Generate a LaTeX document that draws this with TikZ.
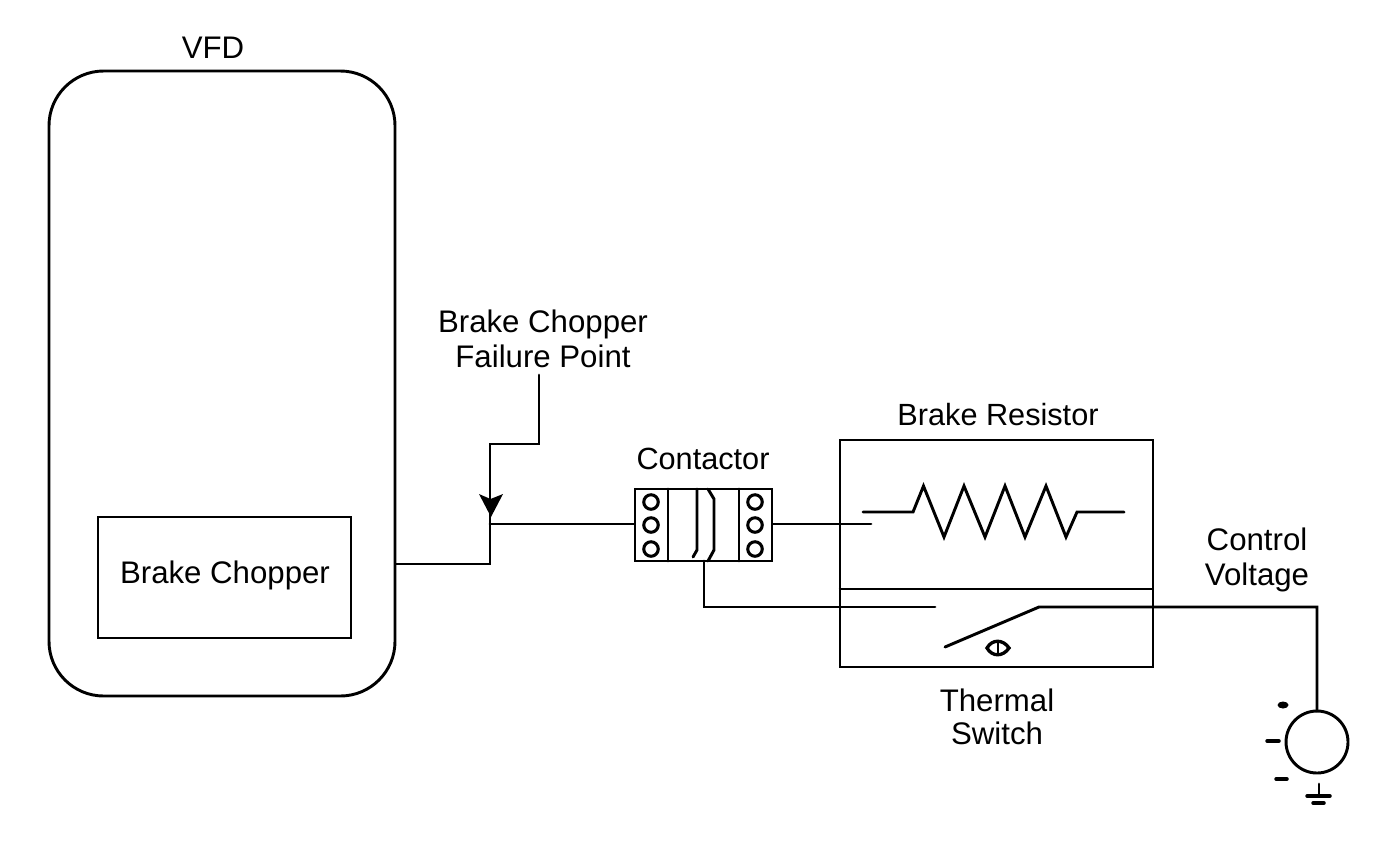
\documentclass[tikz,border=0pt]{standalone}
\usepackage{fontspec}
\setmainfont{Liberation Sans}
\tikzset{
  ln/.style={line width=2.2pt,line cap=round,line join=miter,black},
  tick/.style={line width=2.6pt,line cap=round,black},
  box/.style={draw,line width=2.2pt,inner sep=0pt},
  lbl/.style={font=\fontsize{23.4pt}{26pt}\selectfont,align=center,inner sep=0pt},
  hole/.style={circle,draw,line width=2.3pt,minimum size=14.5*0.75pt,inner sep=0pt},
}
\begin{document}
\begin{tikzpicture}[x=0.75pt,y=-0.75pt]
\useasboundingbox (0,0) rectangle (1394,844);
% VFD
\node[box,minimum width=346*0.75pt,minimum height=625*0.75pt,rounded corners=41pt] (vfd) at (222,383.5) {};
\node[lbl] (vfdl) at (213,48) {VFD};
\node[box,minimum width=253*0.75pt,minimum height=121*0.75pt] (chop) at (224.5,577.5) {};
\node[lbl] (chopl) at (225,575) {Brake Chopper};
\node[lbl] (fail) at (543,339) {Brake Chopper\\Failure Point};
% Contactor
\node[box,minimum width=137*0.75pt,minimum height=72*0.75pt] (cont) at (703.5,525) {};
\node[lbl,font=\fontsize{23pt}{26pt}\selectfont] (contl) at (703,459) {Contactor};
\draw[ln] (668,489) -- (668,561);
\draw[ln] (739,489) -- (739,561);
\node[hole] (h1) at (651,502) {};
\node[hole] (h2) at (651,525) {};
\node[hole] (h3) at (651,549) {};
\node[hole] (h4) at (755,502) {};
\node[hole] (h5) at (755,525) {};
\node[hole] (h6) at (755,549) {};
\draw[ln] (697,489) -- (697,550) -- (693,557);
\draw[ln] (708,489) -- (714,499) -- (714,550) -- (708,561);
% Resistor box
\node[box,minimum width=313*0.75pt,minimum height=227*0.75pt] (res) at (996.5,553.5) {};
\node[lbl,font=\fontsize{23pt}{26pt}\selectfont] (resl) at (998,415) {Brake Resistor};
\draw[line width=2.2pt] (res.west |- 0,589) -- (res.east |- 0,589);
\node[lbl,font=\fontsize{23.4pt}{24.8pt}\selectfont] (therm) at (997,717) {Thermal\\Switch};
\node[lbl] (ctrl) at (1257,560) {Control\\Voltage};
\coordinate (rs) at (863,512);
\coordinate (re) at (1124,512);
\draw[ln] (rs) -- (913,512) -- (923.5,486) -- (944,537) -- (964,486) -- (985,537) -- (1005,486) -- (1025,537) -- (1046,486) -- (1066,537) -- (1077,512) -- (re);
% Thermal switch
\coordinate (swa) at (935,607);
\coordinate (swb) at (945,647);
\coordinate (swc) at (1039,607);
\draw[ln] (swb) -- (swc) -- (1317,607) -- (1317,711);
\draw[line width=2.5pt] (987,648) .. controls (992,639) and (1003,639) .. (1009,648) .. controls (1003,657) and (992,657) .. (987,648) -- cycle;
\draw[line width=2.2pt] (998,642) -- (998,654);
% Source
\node[circle,draw,line width=2.2pt,minimum size=62*0.75pt,inner sep=0pt] (src) at (1317,742) {};
\fill (1283,705) ellipse (5.5 and 3.5);
\draw[tick] (1267,741) -- (1279,741);
\draw[tick] (1276,779) -- (1287,779);
\draw[ln] (1319,784) -- (1319,796);
\draw[tick] (1307,796) -- (1330,796);
\draw[tick] (1313,803) -- (1324,803);
% Connectors
\coordinate (j) at (490,524);
\draw[ln] (vfd.east |- 0,564) -- (490,564) -- (490,510);
\draw[ln] (j) -- (cont.west |- j);
\draw[ln] (cont.east |- j) -- (871,524);
\draw[ln] (704,561) -- (704,607) -- (swa);
\draw[ln] (539,375) -- (539,444) -- (490,444) -- (490,500);
\fill (479,494) -- (490.5,499) -- (503,494) -- (491,517) -- cycle;
\end{tikzpicture}
\end{document}
